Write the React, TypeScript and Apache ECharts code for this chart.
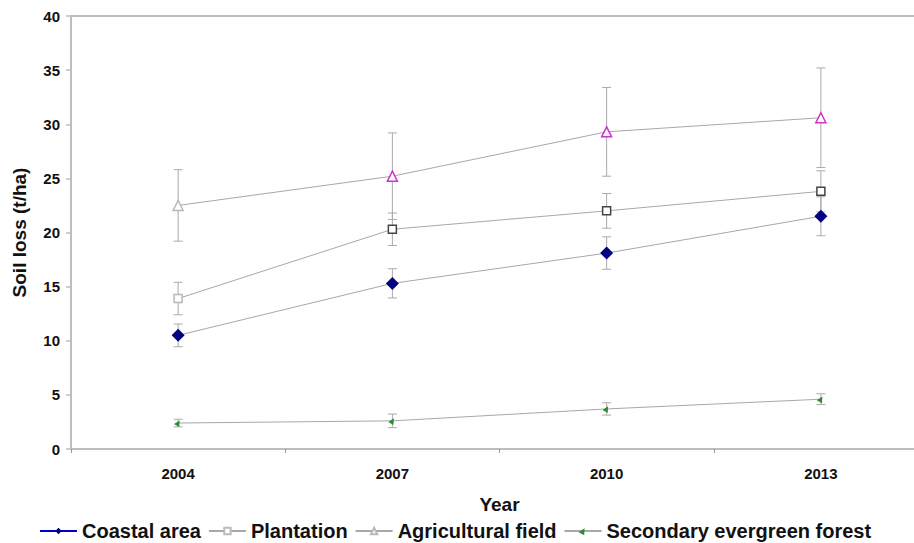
import React, { useEffect, useRef } from "react";
import * as echarts from "echarts";

const years = ["2004", "2007", "2010", "2013"];
const yTicks = [0, 5, 10, 15, 20, 25, 30, 35, 40];

const coastal = [10.5, 15.3, 18.1, 21.5];
const coastalErr = [1.05, 1.35, 1.5, 1.8];
const plantation = [13.9, 20.3, 22.0, 23.8];
const plantationErr = [1.5, 1.5, 1.6, 1.9];
const agricultural = [22.5, 25.2, 29.3, 30.6];
const agriculturalErr = [3.3, 4.0, 4.1, 4.6];
const forest = [2.4, 2.6, 3.7, 4.6];
const forestErr = [0.35, 0.63, 0.57, 0.5];

const FONT = "'Liberation Sans', Arial, sans-serif";
const LINE_GRAY = "#a8a8a8";
const AXIS_GRAY = "#bdbdbd";
const ERR_GRAY = "#aaaaaa";

function errData(vals: number[], errs: number[]) {
  return vals.map((v, i) => [i, v - errs[i], v + errs[i]]);
}

function errSeries(name: string, vals: number[], errs: number[]) {
  return {
    type: "custom",
    name: name + " err",
    z: 1,
    silent: true,
    data: errData(vals, errs),
    renderItem: (params: any, api: any) => {
      const x = api.value(0);
      const lo = api.coord([x, api.value(1)]);
      const hi = api.coord([x, api.value(2)]);
      const hw = 4.5;
      const st = { stroke: ERR_GRAY, lineWidth: 1 };
      return {
        type: "group",
        children: [
          { type: "line", shape: { x1: hi[0], y1: hi[1], x2: lo[0], y2: lo[1] }, style: st },
          { type: "line", shape: { x1: hi[0] - hw, y1: hi[1], x2: hi[0] + hw, y2: hi[1] }, style: st },
          { type: "line", shape: { x1: lo[0] - hw, y1: lo[1], x2: lo[0] + hw, y2: lo[1] }, style: st },
        ],
      };
    },
  };
}

export default function App() {
  const ref = useRef<HTMLDivElement>(null);
  useEffect(() => {
    if (!ref.current) return;
    const chart = echarts.init(ref.current, null, { renderer: "svg" });
    const option: any = {
      animation: false,
      backgroundColor: "#ffffff",
      grid: {
        left: 71,
        top: 16,
        width: 857,
        height: 433,
        show: true,
        borderColor: AXIS_GRAY,
        borderWidth: 2,
        backgroundColor: "transparent",
      },
      legend: {
        left: 34,
        top: 516,
        itemWidth: 37,
        itemHeight: 8,
        itemGap: 7,
        textStyle: { fontFamily: FONT, fontWeight: "bold", fontSize: 20, color: "#111" },
        data: [
          { name: "Coastal area", lineStyle: { color: "#0000cc", width: 2 }, itemStyle: { color: "#000080" } },
          { name: "Plantation", lineStyle: { color: LINE_GRAY, width: 2 }, itemStyle: { color: "#fff", borderColor: "#bbb" } },
          { name: "Agricultural field", lineStyle: { color: LINE_GRAY, width: 2 }, itemStyle: { color: "#fff", borderColor: "#bbb" } },
          { name: "Secondary evergreen forest", lineStyle: { color: LINE_GRAY, width: 2 }, itemStyle: { color: "#2e8b2e" } },
        ],
      },
      xAxis: {
        type: "category",
        data: years,
        boundaryGap: true,
        name: "Year",
        nameLocation: "middle",
        nameGap: 46,
        nameTextStyle: { fontFamily: FONT, fontWeight: "bold", fontSize: 19, color: "#111" },
        axisLine: { lineStyle: { color: AXIS_GRAY, width: 2 } },
        axisTick: { show: true, length: 4, lineStyle: { color: "#999" } },
        axisLabel: { fontFamily: FONT, fontWeight: "bold", fontSize: 15, color: "#111", margin: 17 },
        splitLine: { show: false },
      },
      yAxis: {
        type: "value",
        min: yTicks[0],
        max: yTicks[yTicks.length - 1],
        interval: 5,
        name: "Soil loss (t/ha)",
        nameLocation: "middle",
        nameGap: 42,
        nameTextStyle: { fontFamily: FONT, fontWeight: "bold", fontSize: 19, color: "#111" },
        axisLine: { show: true, lineStyle: { color: AXIS_GRAY, width: 2 } },
        axisTick: { show: true, length: 5, inside: false, lineStyle: { color: AXIS_GRAY, width: 1.5 } },
        axisLabel: { fontFamily: FONT, fontWeight: "bold", fontSize: 15, color: "#111", margin: 11 },
        splitLine: { show: false },
      },
      series: [
        errSeries("Agricultural field", agricultural, agriculturalErr),
        errSeries("Plantation", plantation, plantationErr),
        errSeries("Coastal area", coastal, coastalErr),
        errSeries("Secondary evergreen forest", forest, forestErr),
        {
          type: "line",
          name: "Agricultural field",
          z: 3,
          symbol: "triangle",
          symbolSize: 10,
          lineStyle: { color: LINE_GRAY, width: 1 },
          itemStyle: { color: "#fff", borderColor: "#cc33cc", borderWidth: 1.5 },
          data: agricultural.map((v, i) =>
            i === 0 ? { value: v, itemStyle: { borderColor: "#b8b8b8" } } : v
          ),
        },
        {
          type: "line",
          name: "Plantation",
          z: 3,
          symbol: "rect",
          symbolSize: 8,
          lineStyle: { color: LINE_GRAY, width: 1 },
          itemStyle: { color: "#fff", borderColor: "#444", borderWidth: 1.5 },
          data: plantation.map((v, i) =>
            i === 0 ? { value: v, itemStyle: { borderColor: "#b8b8b8" } } : v
          ),
        },
        {
          type: "line",
          name: "Coastal area",
          z: 3,
          symbol: "diamond",
          symbolSize: 13,
          lineStyle: { color: LINE_GRAY, width: 1 },
          itemStyle: { color: "#000080", borderWidth: 0 },
          data: coastal,
        },
        {
          type: "line",
          name: "Secondary evergreen forest",
          z: 3,
          symbol: "triangle",
          symbolSize: 6,
          symbolRotate: -30,
          lineStyle: { color: LINE_GRAY, width: 1 },
          itemStyle: { color: "#2e8b2e", borderWidth: 0 },
          data: forest,
        },
      ],
    };
    chart.setOption(option);
    return () => chart.dispose();
  }, []);
  return (
    <div style={{ position: "fixed", left: 0, top: 0, width: 914, height: 543, overflow: "hidden", background: "#fff" }}>
      <div ref={ref} style={{ position: "absolute", left: 0, top: 0, width: 940, height: 543 }} />
    </div>
  );
}
